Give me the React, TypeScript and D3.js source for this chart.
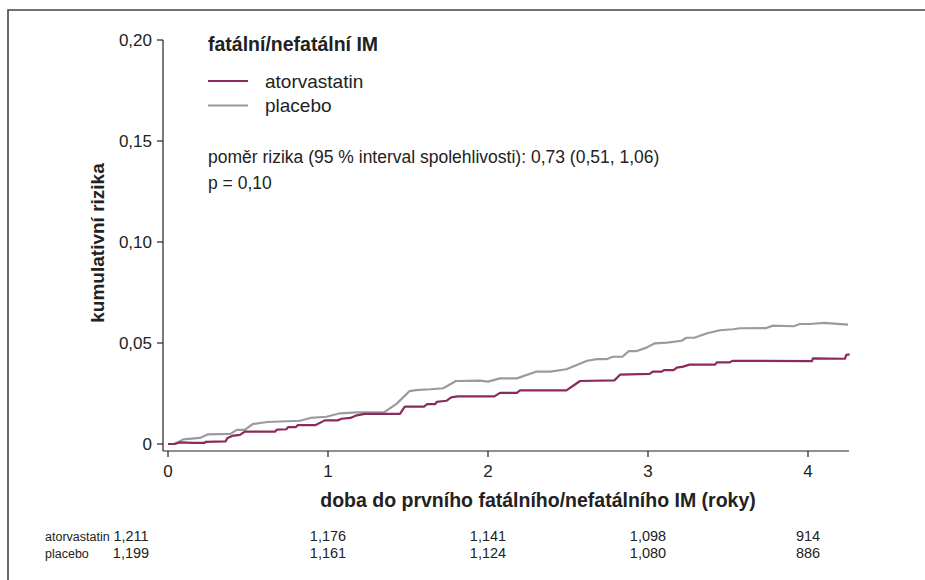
import React, { useRef, useEffect } from "react";
import * as d3 from "d3";

// Kaplan-Meier style cumulative risk
const atorTimes = [0, 0.04, 0.075, 0.16, 0.23, 0.235, 0.36, 0.37, 0.40, 0.45, 0.48, 0.67, 0.68, 0.74, 0.75, 0.80, 0.81, 0.92, 0.98, 1.06, 1.085, 1.14, 1.18, 1.23, 1.45, 1.48, 1.60, 1.62, 1.67, 1.68, 1.74, 1.77, 1.81, 2.04, 2.075, 2.18, 2.20, 2.24, 2.49, 2.53, 2.575, 2.79, 2.825, 3.01, 3.03, 3.085, 3.10, 3.16, 3.18, 3.22, 3.26, 3.42, 3.43, 3.51, 3.53, 4.025, 4.03, 4.23, 4.24, 4.26];
const atorRisk = [0, 0, 0.0008, 0.0006, 0.0006, 0.0011, 0.0013, 0.0028, 0.004, 0.0045, 0.0061, 0.0061, 0.0071, 0.0073, 0.0084, 0.0084, 0.0093, 0.0093, 0.0117, 0.0117, 0.0125, 0.0129, 0.0142, 0.0149, 0.0149, 0.0185, 0.0185, 0.0197, 0.0197, 0.0209, 0.0214, 0.0231, 0.0236, 0.0236, 0.0253, 0.0253, 0.0265, 0.0265, 0.0265, 0.0287, 0.0312, 0.0315, 0.0343, 0.0347, 0.0358, 0.0358, 0.0366, 0.0366, 0.0378, 0.0383, 0.0393, 0.0393, 0.0404, 0.0404, 0.0412, 0.0410, 0.0424, 0.0422, 0.0441, 0.0444];

const placeboTimes = [0, 0.04, 0.096, 0.2, 0.25, 0.39, 0.43, 0.48, 0.53, 0.62, 0.825, 0.89, 0.99, 1.075, 1.18, 1.35, 1.43, 1.51, 1.55, 1.64, 1.72, 1.80, 1.95, 2.0, 2.075, 2.18, 2.30, 2.39, 2.49, 2.62, 2.68, 2.74, 2.78, 2.84, 2.88, 2.93, 2.99, 3.04, 3.12, 3.21, 3.24, 3.29, 3.37, 3.45, 3.53, 3.575, 3.74, 3.78, 3.91, 3.95, 4.01, 4.10, 4.25];
const placeboRisk = [0, 0, 0.0023, 0.003, 0.0048, 0.005, 0.007, 0.007, 0.0099, 0.0109, 0.0115, 0.0129, 0.0135, 0.0152, 0.0157, 0.0157, 0.020, 0.0262, 0.0267, 0.0271, 0.0276, 0.0312, 0.0314, 0.0309, 0.0325, 0.0325, 0.0358, 0.0358, 0.037, 0.0412, 0.042, 0.042, 0.0432, 0.0432, 0.046, 0.046, 0.0477, 0.0498, 0.0502, 0.0511, 0.0526, 0.0526, 0.0548, 0.0563, 0.0568, 0.0573, 0.0574, 0.0586, 0.0583, 0.0594, 0.0594, 0.060, 0.0591];

const yTicks = [0, 0.05, 0.1, 0.15, 0.2];
const yTickLabels = ["0", "0,05", "0,10", "0,15", "0,20"];
const xTicks = [0, 1, 2, 3, 4];

const groups = ["atorvastatin", "placebo"];
const atRiskAtor = ["1,211", "1,176", "1,141", "1,098", "914"];
const atRiskPlacebo = ["1,199", "1,161", "1,124", "1,080", "886"];

const colors = { atorvastatin: "#8c2a5c", placebo: "#9b9b9b" };

const App = () => {
    const ref = useRef<SVGSVGElement>(null);

    useEffect(() => {
        const svg = d3.select(ref.current);
        svg.selectAll("*").remove();

        const width = 925;
        const height = 580;
        const font = "'Liberation Sans', Arial, Helvetica, sans-serif";
        svg.attr("width", width).attr("height", height).style("background", "#fff");

        const x = d3.scaleLinear().domain([0, 4.25]).range([168, 848]);
        const y = d3.scaleLinear().domain([0, 0.2]).range([444, 40]);
        const axisLeftX = 163;
        const axisBottomY = 451;

        // frame (top + left only)
        svg.append("path")
            .attr("d", `M8,${height} L8,10 L${width},10`)
            .attr("fill", "none")
            .attr("stroke", "#444")
            .attr("stroke-width", 1.6);

        // y axis
        const gy = svg.append("g").attr("font-family", font);
        gy.append("line")
            .attr("x1", axisLeftX).attr("x2", axisLeftX)
            .attr("y1", y(0.2)).attr("y2", axisBottomY)
            .attr("stroke", "#222").attr("stroke-width", 1.2);
        yTicks.forEach((v, i) => {
            gy.append("line")
                .attr("x1", axisLeftX - 6).attr("x2", axisLeftX)
                .attr("y1", y(v)).attr("y2", y(v))
                .attr("stroke", "#222").attr("stroke-width", 1.2);
            gy.append("text")
                .attr("x", axisLeftX - 11)
                .attr("y", y(v) + 6)
                .attr("text-anchor", "end")
                .style("font-size", "17px")
                .attr("fill", "#222")
                .text(yTickLabels[i]);
        });

        // x axis
        const gx = svg.append("g").attr("font-family", font);
        gx.append("line")
            .attr("x1", axisLeftX).attr("x2", x(4.25) + 1)
            .attr("y1", axisBottomY).attr("y2", axisBottomY)
            .attr("stroke", "#222").attr("stroke-width", 1.2);
        xTicks.forEach(t => {
            gx.append("line")
                .attr("x1", x(t)).attr("x2", x(t))
                .attr("y1", axisBottomY).attr("y2", axisBottomY + 6)
                .attr("stroke", "#222").attr("stroke-width", 1.2);
            gx.append("text")
                .attr("x", x(t))
                .attr("y", 477)
                .attr("text-anchor", "middle")
                .style("font-size", "17px")
                .attr("fill", "#222")
                .text(String(t));
        });

        svg.append("text")
            .attr("x", 538)
            .attr("y", 507)
            .attr("text-anchor", "middle")
            .attr("font-family", font)
            .style("font-size", "19.5px")
            .style("font-weight", "bold")
            .attr("fill", "#222")
            .text("doba do prvního fatálního/nefatálního IM (roky)");

        svg.append("text")
            .attr("transform", "rotate(-90)")
            .attr("x", -243)
            .attr("y", 104)
            .attr("text-anchor", "middle")
            .attr("font-family", font)
            .style("font-size", "19px")
            .style("font-weight", "bold")
            .attr("fill", "#222")
            .text("kumulativní rizika");

        // curves
        const line = d3.line<[number, number]>()
            .x(d => x(d[0]))
            .y(d => y(d[1]));

        const series = [
            { name: "placebo", data: d3.zip(placeboTimes, placeboRisk) as [number, number][] },
            { name: "atorvastatin", data: d3.zip(atorTimes, atorRisk) as [number, number][] },
        ];
        series.forEach(s => {
            svg.append("path")
                .datum(s.data)
                .attr("fill", "none")
                .attr("stroke", colors[s.name as keyof typeof colors])
                .attr("stroke-width", 2.2)
                .attr("stroke-linejoin", "round")
                .attr("d", line);
        });

        // legend / annotation
        const g = svg.append("g").attr("font-family", font).attr("fill", "#222");
        g.append("text")
            .attr("x", 208).attr("y", 51)
            .style("font-size", "19.5px")
            .style("font-weight", "bold")
            .text("fatální/nefatální IM");
        groups.forEach((name, i) => {
            const ly = 81 + i * 24.5;
            g.append("line")
                .attr("x1", 208).attr("x2", 248)
                .attr("y1", ly).attr("y2", ly)
                .attr("stroke", colors[name as keyof typeof colors])
                .attr("stroke-width", 2.2);
            g.append("text")
                .attr("x", 265).attr("y", ly + 6.5)
                .style("font-size", "19px")
                .text(name);
        });
        g.append("text")
            .attr("x", 208).attr("y", 163)
            .style("font-size", "17.5px")
            .text("poměr rizika (95 % interval spolehlivosti): 0,73 (0,51, 1,06)");
        g.append("text")
            .attr("x", 208).attr("y", 189)
            .style("font-size", "17.5px")
            .text("p = 0,10");

        // numbers at risk
        const rows = [atRiskAtor, atRiskPlacebo];
        rows.forEach((vals, r) => {
            const ty = 541 + r * 17;
            g.append("text")
                .attr("x", 45).attr("y", ty)
                .style("font-size", "12.5px")
                .text(groups[r]);
            vals.forEach((v, i) => {
                g.append("text")
                    .attr("x", i === 0 ? x(0) - 37 : x(xTicks[i]))
                    .attr("y", ty)
                    .attr("text-anchor", "middle")
                    .style("font-size", "14.5px")
                    .text(v);
            });
        });
    }, []);

    return (
        <div style={{ position: "absolute", left: 0, top: 0 }}>
            <svg ref={ref} style={{ display: "block" }}></svg>
        </div>
    );
};

export default App;
